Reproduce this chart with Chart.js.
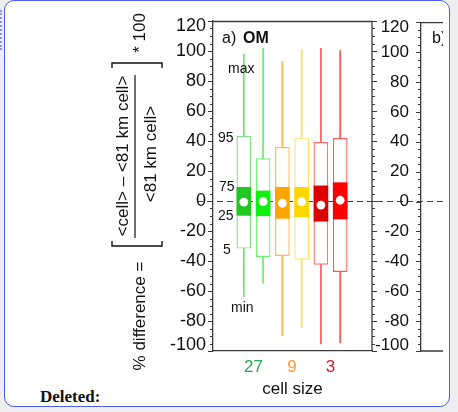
<!DOCTYPE html>
<html>
<head>
<meta charset="utf-8">
<script src="https://cdn.jsdelivr.net/npm/chart.js@4.4.1/dist/chart.umd.min.js"></script>
<style>
html,body{margin:0;padding:0;width:458px;height:412px;overflow:hidden;background:#eeeeee;}
#frame{position:absolute;left:4px;top:0px;width:444px;height:405px;background:#ffffff;border:1.5px solid #4b5cf0;border-radius:10px;}
#dots{position:absolute;left:0px;top:10px;height:40px;border-left:2px dotted #8a96f5;}
#deleted{position:absolute;left:40px;top:387px;line-height:20px;font:bold 17px "Liberation Serif","Times New Roman",serif;color:#111;}
#ca{position:absolute;left:0;top:0;}
#cb{position:absolute;left:340px;top:0;}
</style>
</head>
<body>
<div id="frame"></div>
<div id="dots"></div>
<div id="deleted">Deleted:</div>
<canvas id="ca" width="458" height="412"></canvas>
<canvas id="cb" width="103" height="412"></canvas>
<script>
// ---------------- data ----------------
const cellSizes = ['27', '9', '3'];
const boxPositions = [1, 2, 3, 4, 5, 6];           // two boxes per cell size
const valMin  = [-63.8, -54.9, -90.0, -84.4, -95.3, -94.5];
const valP5   = [-31.5, -37.1, -36.4, -38.9, -42.2, -47.1];
const valP25  = [-9.6,  -9.9,  -11.6, -10.6, -13.5, -12.0];
const valMean = [-0.7,  -0.4,  -1.5,  -0.4,  -2.7,   0.5];
const valP75  = [9.1,    6.7,   9.1,   9.1,  10.1,  12.2];
const valP95  = [43.3,  28.3,  35.8,  42.0,  39.1,  41.8];
const valMax  = [97.8, 101.8,  92.9, 101.1, 101.8, 100.2];
const yMin = -100, yMax = 120, yStep = 20, yMinorStep = 5;

// ---------------- styles ----------------
const fillColors = ['#22c822', '#11ee11', '#ffa500', '#ffd700', '#dd0000', '#ff0000'];
const lineColors = ['#7ede7e', '#6cf56c', '#ffb84d', '#ffe066', '#ff6a6a', '#ff5a5a'];
const labelColors = ['#22aa55', '#ff9a2a', '#cc1f1f'];
const FONT = '"Liberation Sans", Arial, Helvetica, sans-serif';
const AXIS_COLOR = '#3a3a3a';

Chart.defaults.font.family = FONT;
Chart.defaults.font.size = 17;
Chart.defaults.color = '#111';

const pts = arr => arr.map((v, i) => ({ x: boxPositions[i], y: v }));
const rng = (a, b) => a.map((v, i) => ({ x: boxPositions[i], y: [v, b[i]] }));
const pairCenters = cellSizes.map((_, k) => (boxPositions[2 * k] + boxPositions[2 * k + 1]) / 2);

function drawMinorTicks(ctx, scale, x, dir) {
  ctx.save();
  ctx.strokeStyle = AXIS_COLOR;
  ctx.lineWidth = 1;
  for (let v = yMin; v <= yMax + 1e-9; v += yMinorStep) {
    const y = Math.round(scale.getPixelForValue(v)) + 0.5;
    const major = Math.abs(v % yStep) < 1e-9;
    const len = major ? 5 : 3;
    ctx.beginPath();
    ctx.moveTo(x, y);
    ctx.lineTo(x + dir * len, y);
    ctx.stroke();
  }
  ctx.restore();
}

function shiftEndLabels(scale) {
  const items = scale.getLabelItems();
  items.forEach(it => {
    if (it.label === String(yMax)) it.options.translation[1] += 5;
    if (it.label === String(yMin)) it.options.translation[1] -= 6;
  });
}

function rotText(ctx, text, x, y, font) {
  ctx.save();
  ctx.translate(x, y);
  ctx.rotate(-Math.PI / 2);
  ctx.font = font;
  ctx.textAlign = 'center';
  ctx.textBaseline = 'alphabetic';
  ctx.fillText(text, 0, 0);
  ctx.restore();
}

const panelAPlugin = {
  id: 'panelA',
  beforeDraw(chart) {
    shiftEndLabels(chart.scales.y);
  },
  beforeDatasetsDraw(chart) {
    const { ctx, chartArea: ca } = chart;
    const y0 = Math.round(chart.scales.y.getPixelForValue(0)) + 0.5;
    ctx.save();
    ctx.strokeStyle = '#444';
    ctx.lineWidth = 1;
    ctx.setLineDash([6, 4]);
    ctx.beginPath();
    ctx.moveTo(ca.left - 16, y0);
    ctx.lineTo(ca.right + 71, y0);
    ctx.stroke();
    ctx.restore();
  },
  afterDraw(chart) {
    const { ctx, chartArea: ca } = chart;
    const ys = chart.scales.y;
    // frame top & right
    ctx.save();
    ctx.strokeStyle = AXIS_COLOR;
    ctx.lineWidth = 1.3;
    ctx.beginPath();
    ctx.moveTo(ca.left, ca.top + 0.5);
    ctx.lineTo(ca.right, ca.top + 0.5);
    ctx.lineTo(ca.right, ca.bottom);
    ctx.stroke();
    ctx.restore();
    drawMinorTicks(ctx, ys, ca.left, -1);
    drawMinorTicks(ctx, ys, ca.right, 1);

    // panel label
    ctx.save();
    ctx.fillStyle = '#111';
    ctx.textBaseline = 'alphabetic';
    ctx.font = '16px ' + FONT;
    ctx.fillText('a)', ca.left + 9, 43);
    ctx.font = 'bold 16px ' + FONT;
    ctx.fillText('OM', ca.left + 30, 43);
    // percentile annotations
    ctx.font = '14px ' + FONT;
    ctx.fillText('max', ca.left + 15, 73);
    ctx.textBaseline = 'middle';
    ctx.fillText('95', ca.left + 5, ys.getPixelForValue(valP95[0]) + 2);
    ctx.fillText('75', ca.left + 6, ys.getPixelForValue(valP75[0]));
    ctx.fillText('25', ca.left + 5, ys.getPixelForValue(valP25[0]) + 1);
    ctx.fillText('5', ca.left + 10, ys.getPixelForValue(valP5[0]) + 2);
    ctx.textBaseline = 'alphabetic';
    ctx.fillText('min', ca.left + 18, 312);
    ctx.restore();

    // y-axis title (formula)
    ctx.save();
    ctx.fillStyle = '#111';
    const f = '17px ' + FONT;
    rotText(ctx, '% difference =', 145, 316, f);
    rotText(ctx, '<cell> \u2013 <81 km cell>', 128, 156, f);
    rotText(ctx, '<81 km cell>', 156, 154, f);
    rotText(ctx, '* 100', 145, 33, f);
    ctx.strokeStyle = '#111';
    ctx.lineWidth = 1.2;
    ctx.beginPath();
    ctx.moveTo(135, 75); ctx.lineTo(135, 238);
    ctx.stroke();
    ctx.lineWidth = 1.4;
    ctx.beginPath();
    ctx.moveTo(112, 241); ctx.lineTo(112, 246); ctx.lineTo(162, 246); ctx.lineTo(162, 241);
    ctx.moveTo(112, 68); ctx.lineTo(112, 63); ctx.lineTo(162, 63); ctx.lineTo(162, 68);
    ctx.stroke();
    ctx.restore();
  }
};

new Chart(document.getElementById('ca'), {
  type: 'bar',
  data: {
    datasets: [
      { label: 'range', data: rng(valMin, valMax), backgroundColor: lineColors,
        barThickness: 1.2, order: 4 },
      { label: 'p5-p95', data: rng(valP5, valP95), backgroundColor: '#ffffff', borderColor: lineColors,
        borderWidth: 1.2, borderSkipped: false, barThickness: 14, order: 3 },
      { label: 'p25-p75', data: rng(valP25, valP75), backgroundColor: fillColors,
        borderWidth: 0, barThickness: 14, order: 2 },
      { type: 'line', label: 'mean', data: pts(valMean), showLine: false, pointRadius: 4.4,
        pointBackgroundColor: '#ffffff', pointBorderWidth: 0, order: 1 }
    ]
  },
  options: {
    responsive: false,
    animation: false,
    devicePixelRatio: 1,
    layout: { padding: { left: 153, right: 86, top: 21, bottom: 6 } },
    plugins: { legend: { display: false }, tooltip: { enabled: false } },
    datasets: { bar: { grouped: false } },
    scales: {
      x: {
        type: 'linear', min: -0.6, max: 7.65, offset: false,
        grid: { display: false, drawTicks: false },
        border: { display: true, color: AXIS_COLOR, width: 1.3 },
        afterBuildTicks: s => { s.ticks = pairCenters.map(v => ({ value: v })); },
        afterFit: s => { s.height = 55; },
        ticks: {
          autoSkip: false, maxRotation: 0, padding: 6,
          font: { size: 17 },
          color: c => labelColors[c.index],
          callback: (v, i) => cellSizes[i]
        },
        title: { display: true, text: 'cell size', color: '#111', font: { size: 17 },
                 padding: { top: 0, bottom: 6 } }
      },
      y: {
        type: 'linear', min: yMin, max: yMax,
        grid: { display: false, drawTicks: false },
        border: { display: true, color: AXIS_COLOR, width: 1.3 },
        afterFit: s => { s.width = 60; },
        ticks: { stepSize: yStep, padding: 7, font: { size: 18 }, color: '#111', autoSkip: false }
      }
    }
  },
  plugins: [panelAPlugin]
});

// ---------------- panel b (axis only, cut off at right) ----------------
const panelBPlugin = {
  id: 'panelB',
  beforeDraw(chart) { shiftEndLabels(chart.scales.y); },
  afterDraw(chart) {
    const { ctx, chartArea: ca } = chart;
    ctx.save();
    ctx.strokeStyle = AXIS_COLOR;
    ctx.lineWidth = 1.3;
    ctx.beginPath();
    ctx.moveTo(ca.left, ca.top + 0.5); ctx.lineTo(ca.right, ca.top + 0.5);
    ctx.moveTo(ca.left, ca.bottom); ctx.lineTo(ca.right, ca.bottom);
    ctx.stroke();
    ctx.restore();
    drawMinorTicks(ctx, chart.scales.y, ca.left, -1);
    ctx.save();
    ctx.fillStyle = '#111';
    ctx.font = '16px ' + FONT;
    ctx.textBaseline = 'alphabetic';
    ctx.fillText('b)', ca.left + 11, 43);
    ctx.restore();
  }
};

new Chart(document.getElementById('cb'), {
  type: 'scatter',
  data: { datasets: [{ data: [] }] },
  options: {
    responsive: false,
    animation: false,
    devicePixelRatio: 1,
    layout: { padding: { left: 0, right: 0, top: 21, bottom: 61 } },
    plugins: { legend: { display: false }, tooltip: { enabled: false } },
    scales: {
      x: { display: false, min: 0, max: 1 },
      y: {
        type: 'linear', min: yMin, max: yMax,
        grid: { display: false, drawTicks: false },
        border: { display: true, color: AXIS_COLOR, width: 1.3 },
        afterFit: s => { s.width = 81; },
        ticks: { stepSize: yStep, padding: 12, font: { size: 17 }, color: '#111', autoSkip: false }
      }
    }
  },
  plugins: [panelBPlugin]
});
</script>
</body>
</html>
